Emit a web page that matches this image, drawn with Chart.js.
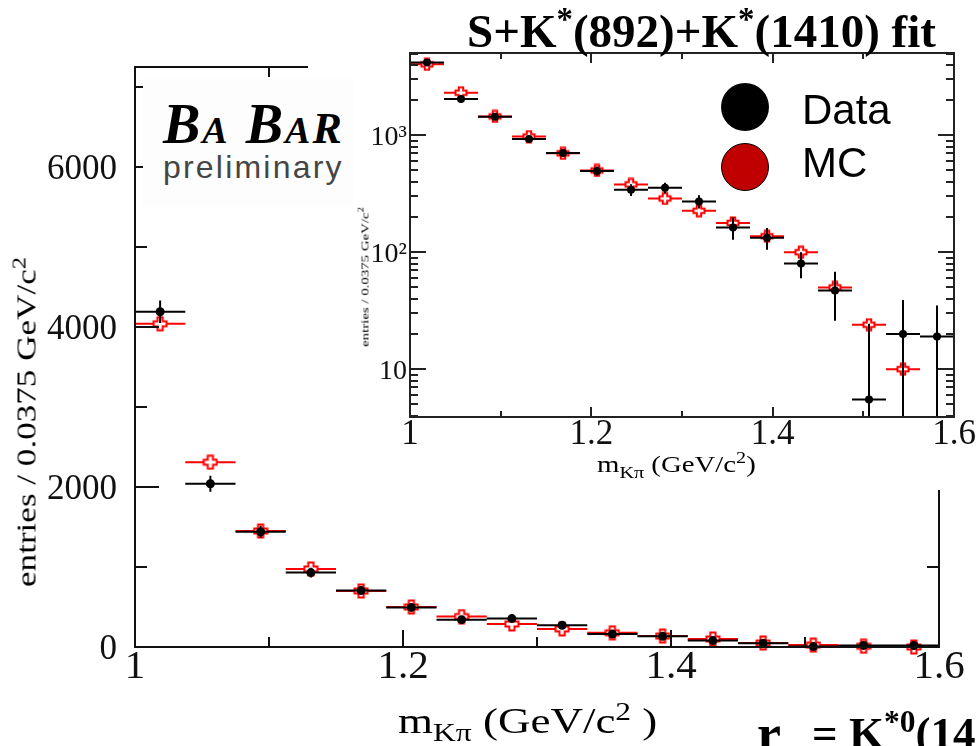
<!DOCTYPE html>
<html>
<head>
<meta charset="utf-8">
<script src="https://cdn.jsdelivr.net/npm/chart.js@4.4.1/dist/chart.umd.min.js"></script>
<style>
  body { margin: 0; width: 979px; height: 746px; overflow: hidden; position: relative; background: #fff;
         font-family: "Liberation Serif", "DejaVu Serif", serif; color: #000; }
  .abs { position: absolute; white-space: nowrap; line-height: 1; }
  .sans { font-family: "Liberation Sans", Arial, sans-serif; }
  sup, sub { line-height: 0; font-size: 0.7em; }
</style>
</head>
<body>
<canvas id="mainChart" width="979" height="746" class="abs" style="left:0;top:0"></canvas>

<div class="abs" style="left:308px;top:0;width:671px;height:490px;background:#fff;overflow:hidden">
  <canvas id="insetChart" width="700" height="490" style="position:absolute;left:0;top:0"></canvas>
</div>

<!-- experiment logo -->
<div class="abs" style="left:143px;top:78px;width:210px;height:129px;background:#fdfdfd"></div>
<div class="abs" style="left:163px;top:96px;font-size:56px;font-weight:bold;font-style:italic;letter-spacing:2px">
  <span>B</span><span style="font-size:38px">A</span><span style="margin-left:16px">B</span><span style="font-size:38px">A</span><span style="font-size:44px">R</span>
</div>
<div class="abs sans" style="left:163px;top:151px;font-size:32px;color:#454545;letter-spacing:2.2px">preliminary</div>

<!-- inset title and legend -->
<div class="abs" style="left:467px;top:8px;font-size:47px;font-weight:bold">S+K<sup>*</sup>(892)+K<sup>*</sup>(1410) fit</div>
<div class="abs" style="left:721px;top:83px;width:48px;height:48px;border-radius:50%;background:#000"></div>
<div class="abs" style="left:721px;top:143px;width:46px;height:46px;border-radius:50%;background:#c00000;border:1px solid #000"></div>
<div class="abs sans" style="left:802px;top:89px;font-size:42px">Data</div>
<div class="abs sans" style="left:802px;top:142px;font-size:42px">MC</div>

<!-- axis titles -->
<div class="abs" style="left:27px;top:422px;font-size:27px;transform:translate(-50%,-50%) rotate(-90deg) scaleX(1.3)">entries / 0.0375 GeV/c<sup>2</sup></div>
<div class="abs" style="left:398px;top:703px;font-size:36px;transform:scaleX(1.25);transform-origin:0 0">m<sub>Kπ</sub> (GeV/c<sup>2</sup> )</div>
<div class="abs" style="left:365px;top:277px;font-size:11px;transform:translate(-50%,-50%) rotate(-90deg) scaleX(1.35)">entries / 0.0375 GeV/c<sup>2</sup></div>
<div class="abs" style="left:597px;top:452px;font-size:24px;transform:scaleX(1.2);transform-origin:0 0">m<sub>Kπ</sub> (GeV/c<sup>2</sup>)</div>

<div class="abs" style="left:757px;top:707px;font-size:54px;font-weight:bold">r</div>
<div class="abs" style="left:812px;top:711px;font-size:45px;font-weight:bold">= K<sup>*0</sup>(1410)</div>

<script>
// K-pi mass bins, 0.0375 GeV wide
const binCenters = [1.01875, 1.05625, 1.09375, 1.13125, 1.16875, 1.20625, 1.24375, 1.28125,
                    1.31875, 1.35625, 1.39375, 1.43125, 1.46875, 1.50625, 1.54375, 1.58125];
const binHalfWidth = 0.01875;

// entries per bin
const dataCounts = [4190, 2040, 1440, 930, 705, 495, 342, 355, 272, 163, 133, 80, 47, 5.5, 20, 19];
const dataErrors = [140, 100, 75, 60, 50, 45, 40, 38, 35, 35, 28, 20, 21, 19, 19, 16];
const mcCounts = [4040, 2310, 1450, 975, 700, 500, 380, 288, 226, 178, 137, 100, 50, 24, 10, 0];

// axis ticks
const xMajorTicks = [1, 1.2, 1.4, 1.6];
const xMinorTicks = [1.1, 1.3, 1.5];
const xTickLabels = ['1', '1.2', '1.4', '1.6'];
const mainYMajor = [0, 2000, 4000, 6000];
const mainYMinor = [1000, 3000, 5000, 7000];
const mainYLabels = ['0', '2000', '4000', '6000'];
const logYMajor = [10, 100, 1000];
const logYMinor = [4, 5, 6, 7, 8, 9, 20, 30, 40, 50, 60, 70, 80, 90,
                   200, 300, 400, 500, 600, 700, 800, 900, 2000, 3000, 4000, 5000];
const logYLabels = ['10', '10²', '10³'];

Chart.defaults.devicePixelRatio = 1;

// ROOT style open cross marker
function openCross(size) {
  const c = document.createElement('canvas');
  c.width = c.height = size + 3;
  const g = c.getContext('2d');
  const m = c.width / 2, h = size / 2, a = size * 0.2;
  g.translate(m, m);
  g.beginPath();
  g.moveTo(-a, -h); g.lineTo(a, -h); g.lineTo(a, -a); g.lineTo(h, -a); g.lineTo(h, a); g.lineTo(a, a);
  g.lineTo(a, h); g.lineTo(-a, h); g.lineTo(-a, a); g.lineTo(-h, a); g.lineTo(-h, -a); g.lineTo(-a, -a);
  g.closePath();
  g.fillStyle = '#fff'; g.fill();
  g.strokeStyle = '#ff0000'; g.lineWidth = 2; g.stroke();
  return c;
}

// horizontal bin-width bars and vertical errors, drawn just before each dataset's markers
const errorBars = {
  id: 'errorBars',
  beforeDatasetDraw(chart, args) {
    const ds = chart.data.datasets[args.index];
    const { ctx, chartArea: a, scales: { x, y } } = chart;
    ctx.save();
    ctx.beginPath();
    ctx.rect(a.left, a.top - 10, a.right - a.left, a.bottom - a.top + 12);
    ctx.clip();
    ctx.strokeStyle = ds.barColor;
    ctx.lineWidth = 2;
    ctx.beginPath();
    ds.data.forEach((p, i) => {
      if (p.y == null) return;
      const px = x.getPixelForValue(p.x), py = y.getPixelForValue(p.y);
      ctx.moveTo(x.getPixelForValue(p.x - binHalfWidth), py);
      ctx.lineTo(x.getPixelForValue(p.x + binHalfWidth), py);
      const e = ds.errors ? ds.errors[i] : 0;
      if (e) {
        const lo = Math.max(p.y - e, y.min);
        ctx.moveTo(px, y.getPixelForValue(p.y + e));
        ctx.lineTo(px, y.getPixelForValue(lo));
      }
    });
    ctx.stroke();
    ctx.restore();
  }
};

// box frame with inward ticks on all four sides
const frame = {
  id: 'frame',
  afterDraw(chart, args, f) {
    const { ctx, chartArea: a, scales: { x, y } } = chart;
    ctx.save();
    ctx.strokeStyle = f.color;
    ctx.lineWidth = 2;
    ctx.strokeRect(a.left, a.top, a.right - a.left, a.bottom - a.top);
    ctx.beginPath();
    const tickX = (vals, len) => vals.forEach(v => {
      const px = Math.round(x.getPixelForValue(v));
      ctx.moveTo(px, a.bottom); ctx.lineTo(px, a.bottom - len);
      ctx.moveTo(px, a.top); ctx.lineTo(px, a.top + len);
    });
    const tickY = (vals, len) => vals.forEach(v => {
      const py = Math.round(y.getPixelForValue(v));
      ctx.moveTo(a.left, py); ctx.lineTo(a.left + len, py);
      ctx.moveTo(a.right, py); ctx.lineTo(a.right - len, py);
    });
    tickX(f.xMajor, f.xMajorLen);
    tickX(f.xMinor, f.xMinorLen);
    tickY(f.yMajor, f.yMajorLen);
    tickY(f.yMinor, f.yMinorLen);
    ctx.stroke();
    ctx.restore();
  }
};

function datasets(dataVals, mcVals, markerSize, dotRadius) {
  return [
    {
      label: 'Data',
      data: binCenters.map((x, i) => ({ x, y: dataVals[i] })),
      errors: dataErrors,
      barColor: '#000',
      pointStyle: 'circle',
      pointRadius: dotRadius,
      backgroundColor: '#000',
      borderWidth: 0,
      showLine: false,
      clip: false
    },
    {
      label: 'MC',
      data: binCenters.map((x, i) => ({ x, y: mcVals[i] })),
      barColor: '#ff0000',
      pointStyle: openCross(markerSize),
      pointRadius: markerSize / 2,
      showLine: false,
      clip: false
    }
  ];
}

const labelFont = (size) => ({ family: '"Liberation Serif", serif', size, lineHeight: 1 });

new Chart(document.getElementById('mainChart'), {
  type: 'scatter',
  data: { datasets: datasets(dataCounts, mcCounts, 13, 4.5) },
  options: {
    responsive: false,
    animation: false,
    layout: { padding: { left: 0, top: 67, right: 40, bottom: 0 } },
    plugins: {
      legend: { display: false },
      tooltip: { enabled: false },
      frame: {
        color: '#111',
        xMajor: xMajorTicks, xMinor: xMinorTicks, xMajorLen: 17, xMinorLen: 10,
        yMajor: mainYMajor, yMinor: mainYMinor, yMajorLen: 24, yMinorLen: 12
      }
    },
    scales: {
      x: {
        type: 'linear', min: 1, max: 1.6,
        grid: { display: false, drawTicks: false }, border: { display: false },
        afterBuildTicks: s => { s.ticks = xMajorTicks.map(v => ({ value: v })); },
        afterFit: s => { s.height = 99; },
        ticks: { font: labelFont(41), color: '#111', padding: 0, maxRotation: 0, autoSkip: false,
                 callback: (v) => xTickLabels[xMajorTicks.indexOf(v)] }
      },
      y: {
        type: 'linear', min: 0, max: 7250,
        grid: { display: false, drawTicks: false }, border: { display: false },
        afterBuildTicks: s => { s.ticks = mainYMajor.map(v => ({ value: v })); },
        afterFit: s => { s.width = 135; },
        ticks: { font: labelFont(35), color: '#111', padding: 18, labelOffset: 3,
                 callback: (v) => mainYLabels[mainYMajor.indexOf(v)] }
      }
    }
  },
  plugins: [errorBars, frame]
});

// log-scale inset; empty bins are left out
const pos = v => (v > 0 ? v : null);
new Chart(document.getElementById('insetChart'), {
  type: 'scatter',
  data: { datasets: datasets(dataCounts.map(pos), mcCounts.map(pos), 11, 4) },
  options: {
    responsive: false,
    animation: false,
    layout: { padding: { left: 0, top: 53, right: 54, bottom: 0 } },
    plugins: {
      legend: { display: false },
      tooltip: { enabled: false },
      frame: {
        color: '#222',
        xMajor: xMajorTicks, xMinor: xMinorTicks, xMajorLen: 10, xMinorLen: 6,
        yMajor: logYMajor, yMinor: logYMinor, yMajorLen: 16, yMinorLen: 8
      }
    },
    scales: {
      x: {
        type: 'linear', min: 1, max: 1.6,
        grid: { display: false, drawTicks: false }, border: { display: false },
        afterBuildTicks: s => { s.ticks = xMajorTicks.map(v => ({ value: v })); },
        afterFit: s => { s.height = 73; },
        ticks: { font: labelFont(35), color: '#111', padding: 0, maxRotation: 0, autoSkip: false,
                 callback: (v) => xTickLabels[xMajorTicks.indexOf(v)] }
      },
      y: {
        type: 'logarithmic', min: 3.9, max: 5050,
        grid: { display: false, drawTicks: false }, border: { display: false },
        afterBuildTicks: s => { s.ticks = logYMajor.map(v => ({ value: v })); },
        afterFit: s => { s.width = 102; },
        ticks: { font: labelFont(28), color: '#111', padding: 3, labelOffset: 2,
                 callback: (v) => logYLabels[logYMajor.indexOf(v)] }
      }
    }
  },
  plugins: [errorBars, frame]
});
</script>
</body>
</html>
